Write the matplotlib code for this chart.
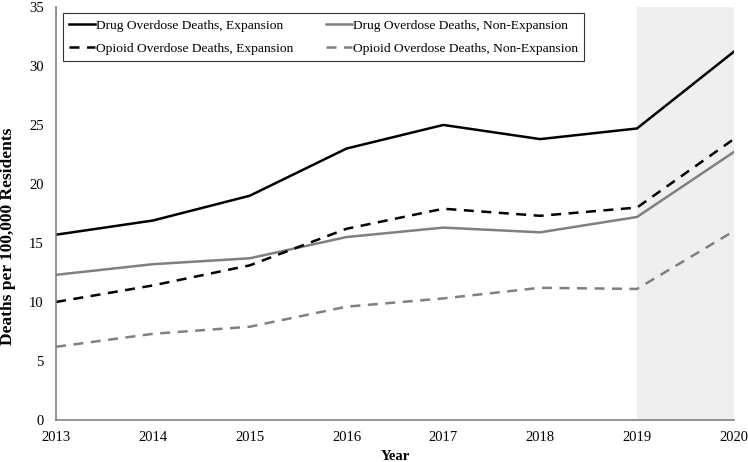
import matplotlib
matplotlib.use('Agg')
import matplotlib.pyplot as plt

plt.rcParams['font.family'] = ['Liberation Serif', 'DejaVu Serif']

years = [2013, 2014, 2015, 2016, 2017, 2018, 2019, 2020]
drug_exp = [15.7, 16.9, 19.0, 23.0, 25.0, 23.8, 24.7, 31.2]
drug_nonexp = [12.3, 13.2, 13.7, 15.5, 16.3, 15.9, 17.2, 22.7]
opioid_exp = [10.0, 11.4, 13.1, 16.2, 17.9, 17.3, 18.0, 23.8]
opioid_nonexp = [6.2, 7.3, 7.9, 9.6, 10.3, 11.2, 11.1, 16.0]

fig = plt.figure(figsize=(7.48, 4.62), dpi=100)
ax = fig.add_axes([0.075, 0.091, 0.906, 0.894])

# shaded 2019-2020 period
ax.axvspan(2019, 2020, color='#efefef', zorder=0, lw=0)

l1, = ax.plot(years, drug_exp, color='black', lw=1.8, label='Drug Overdose Deaths, Expansion')
l2, = ax.plot(years, drug_nonexp, color='#808080', lw=1.8, label='Drug Overdose Deaths, Non-Expansion')
l3, = ax.plot(years, opioid_exp, color='black', lw=1.8, ls=(0, (4, 3)), label='Opioid Overdose Deaths, Expansion')
l4, = ax.plot(years, opioid_nonexp, color='#808080', lw=1.8, ls=(0, (4, 3)), label='Opioid Overdose Deaths, Non-Expansion')

ax.set_xlim(2013, 2020)
ax.set_ylim(0, 35)
ax.set_xticks(years)
ax.set_yticks(range(0, 36, 5))
ax.tick_params(length=0, labelsize=10.5)
ax.tick_params(axis='y', pad=9)
ax.tick_params(axis='x', pad=8)
for s in ['top', 'right']:
    ax.spines[s].set_visible(False)
for s in ['left', 'bottom']:
    ax.spines[s].set_color('#808080')
    ax.spines[s].set_linewidth(1.2)

ax.set_xlabel('Year', fontweight='bold', fontsize=10.5, labelpad=4)
fig.text(8 / 748, 1 - 236 / 462, 'Deaths per 100,000 Residents', rotation=90,
         ha='center', va='center', fontweight='bold', fontsize=12.5)

# row-wise order in the legend
leg = ax.legend([l1, l3, l2, l4], [l.get_label() for l in (l1, l3, l2, l4)],
                ncol=2, loc='upper left', bbox_to_anchor=(0.010, 0.985), borderaxespad=0,
                fontsize=9.7, frameon=True, fancybox=False, edgecolor='black',
                handlelength=1.9, handletextpad=0.1, columnspacing=2.45,
                borderpad=0.45, labelspacing=0.8)
leg.get_frame().set_linewidth(0.8)

plt.savefig('out.png', dpi=100)
